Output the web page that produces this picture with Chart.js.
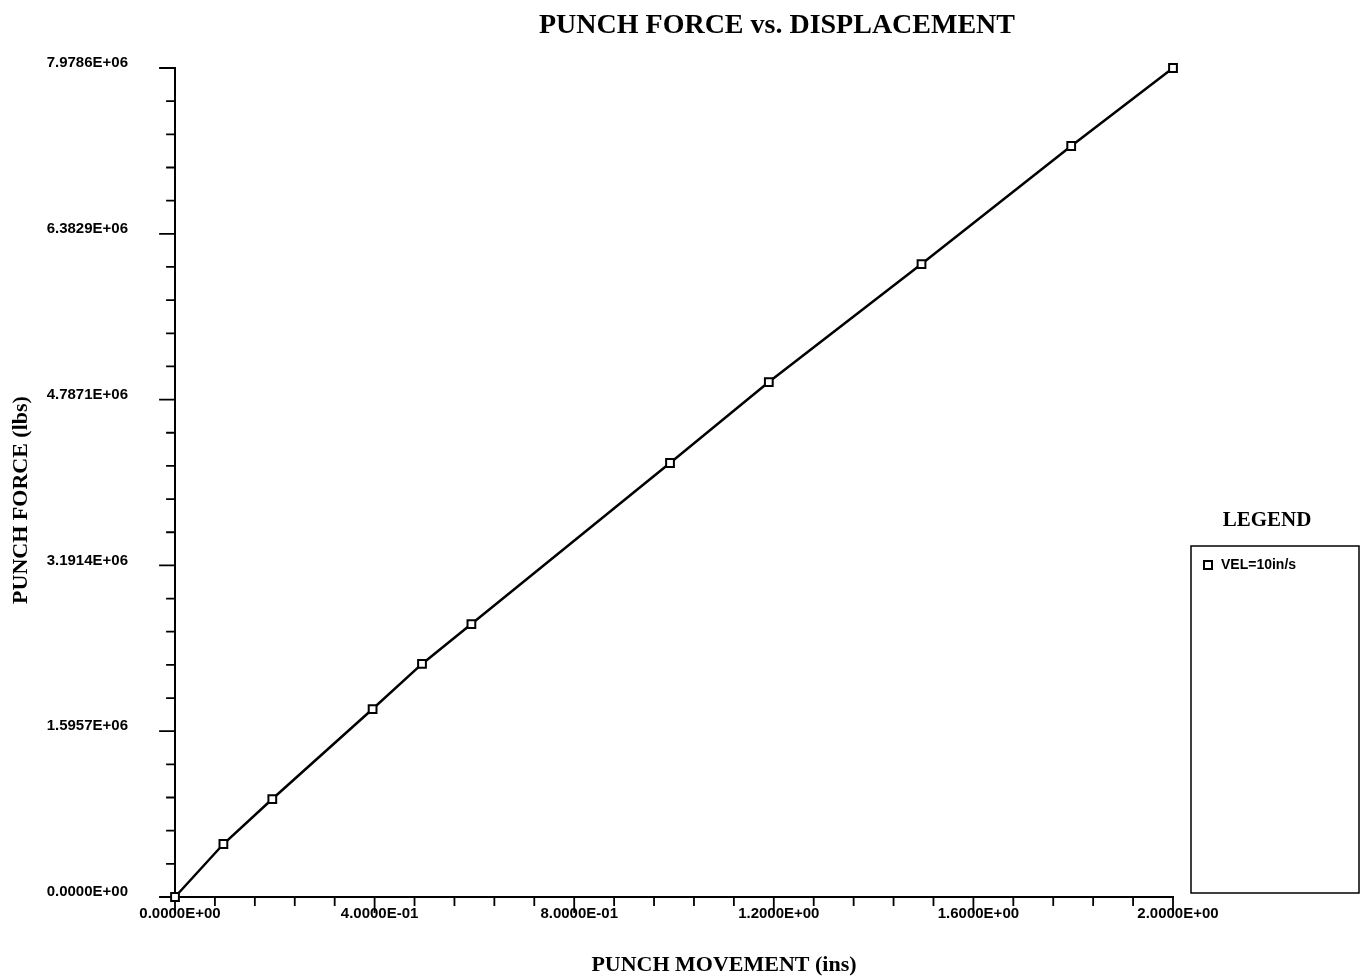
<!DOCTYPE html>
<html>
<head>
<meta charset="utf-8">
<title>Punch force vs. displacement</title>
<script src="https://cdn.jsdelivr.net/npm/chart.js@4/dist/chart.umd.min.js"></script>
<style>
    html, body { margin: 0; padding: 0; background: #fff; }
    #wrap { width: 1367px; height: 978px; position: relative; }
</style>
</head>
<body>
<div id="wrap"><canvas id="chart" width="1367" height="978"></canvas></div>
<script>
// punch movement (ins) and punch force (lbs)
const movement = [0, 0.097, 0.195, 0.396, 0.495, 0.594, 0.992, 1.19, 1.496, 1.796, 2.0];
const force = [0, 0.510e6, 0.943e6, 1.809e6, 2.243e6, 2.627e6, 4.177e6, 4.956e6, 6.092e6, 7.228e6, 7.9786e6];

const seriesLabel = 'VEL=10in/s';

const xTicks = [0, 0.4, 0.8, 1.2, 1.6, 2.0];
const xTickLabels = ['0.0000E+00', '4.0000E-01', '8.0000E-01', '1.2000E+00', '1.6000E+00', '2.0000E+00'];
const yTicks = [0, 1.59571e6, 3.19143e6, 4.78714e6, 6.38286e6, 7.97857e6];
const yTickLabels = ['0.0000E+00', '1.5957E+06', '3.1914E+06', '4.7871E+06', '6.3829E+06', '7.9786E+06'];

const tickFont = { family: 'Liberation Sans, Arial, sans-serif', size: 15, weight: 'bold' };
const serif = 'Liberation Serif, Times New Roman, serif';

// axis lines, major/minor tick marks, titles and the boxed legend
const framePlugin = {
    id: 'frame',
    beforeDatasetsDraw(chart) {
        const { ctx, chartArea: a, scales: { x, y } } = chart;
        ctx.save();
        ctx.strokeStyle = '#000';
        ctx.lineCap = 'square';

        ctx.lineWidth = 2;
        ctx.beginPath();
        ctx.moveTo(a.left, a.top);
        ctx.lineTo(a.left, a.bottom);
        ctx.lineTo(a.right, a.bottom);
        ctx.stroke();

        ctx.lineWidth = 1.8;
        ctx.beginPath();
        for (let i = 0; i < xTicks.length - 1; i++) {
            const step = (xTicks[i + 1] - xTicks[i]) / 5;
            for (let k = 0; k < 5; k++) {
                const px = x.getPixelForValue(xTicks[i] + k * step);
                const len = k === 0 ? 15 : 8;
                ctx.moveTo(px, a.bottom);
                ctx.lineTo(px, a.bottom + len);
            }
        }
        const xEnd = x.getPixelForValue(xTicks[xTicks.length - 1]);
        ctx.moveTo(xEnd, a.bottom);
        ctx.lineTo(xEnd, a.bottom + 15);

        for (let i = 0; i < yTicks.length - 1; i++) {
            const step = (yTicks[i + 1] - yTicks[i]) / 5;
            for (let k = 0; k < 5; k++) {
                const py = y.getPixelForValue(yTicks[i] + k * step);
                const len = k === 0 ? 15 : 8;
                ctx.moveTo(a.left, py);
                ctx.lineTo(a.left - len, py);
            }
        }
        const yEnd = y.getPixelForValue(yTicks[yTicks.length - 1]);
        ctx.moveTo(a.left, yEnd);
        ctx.lineTo(a.left - 15, yEnd);
        ctx.stroke();

        ctx.fillStyle = '#000';
        ctx.textAlign = 'center';
        ctx.textBaseline = 'middle';
        ctx.font = `bold 28px ${serif}`;
        ctx.fillText('PUNCH FORCE vs. DISPLACEMENT', 777, 26);

        ctx.font = `bold 22px ${serif}`;
        ctx.fillText('PUNCH MOVEMENT (ins)', 724, 965);

        ctx.save();
        ctx.translate(21, 500);
        ctx.rotate(-Math.PI / 2);
        ctx.fillText('PUNCH FORCE (lbs)', 0, 0);
        ctx.restore();

        // legend
        ctx.font = `bold 21px ${serif}`;
        ctx.fillText('LEGEND', 1267, 521);
        ctx.lineWidth = 1.5;
        ctx.strokeRect(1191, 546, 168, 347);

        const ds = chart.data.datasets[0];
        ctx.lineWidth = 2;
        ctx.strokeRect(1204, 561, 8, 8);
        ctx.textAlign = 'left';
        ctx.font = 'bold 14px Liberation Sans, Arial, sans-serif';
        ctx.fillText(ds.label, 1221, 565);
        ctx.restore();
    }
};

new Chart(document.getElementById('chart'), {
    type: 'scatter',
    data: {
        datasets: [{
            label: seriesLabel,
            data: movement.map((m, i) => ({ x: m, y: force[i] })),
            showLine: true,
            borderColor: '#000',
            borderWidth: 2.5,
            pointStyle: 'rect',
            pointRadius: 5.5,
            pointBorderWidth: 2,
            pointBorderColor: '#000',
            pointBackgroundColor: '#fff',
            clip: false
        }]
    },
    options: {
        responsive: false,
        animation: false,
        devicePixelRatio: 1,
        layout: { padding: { top: 68, right: 194, bottom: 0, left: 0 }, autoPadding: false },
        plugins: {
            legend: { display: false },
            title: { display: false },
            tooltip: { enabled: false }
        },
        scales: {
            x: {
                type: 'linear',
                min: 0,
                max: 2.0,
                border: { display: false },
                grid: { display: false, drawTicks: false },
                afterFit: s => { s.height = 81; },
                afterBuildTicks: s => { s.ticks = xTicks.map(v => ({ value: v })); },
                ticks: {
                    color: '#000',
                    font: tickFont,
                    padding: 8,
                    labelOffset: 5,
                    maxRotation: 0,
                    autoSkip: false,
                    callback: (v, i) => xTickLabels[i]
                }
            },
            y: {
                type: 'linear',
                min: 0,
                max: 7.9786e6,
                border: { display: false },
                grid: { display: false, drawTicks: false },
                afterFit: s => { s.width = 175; },
                afterBuildTicks: s => { s.ticks = yTicks.map(v => ({ value: v })); },
                ticks: {
                    color: '#000',
                    font: tickFont,
                    padding: 47,
                    labelOffset: -5,
                    autoSkip: false,
                    callback: (v, i) => yTickLabels[i]
                }
            }
        }
    },
    plugins: [framePlugin]
});
</script>
</body>
</html>
